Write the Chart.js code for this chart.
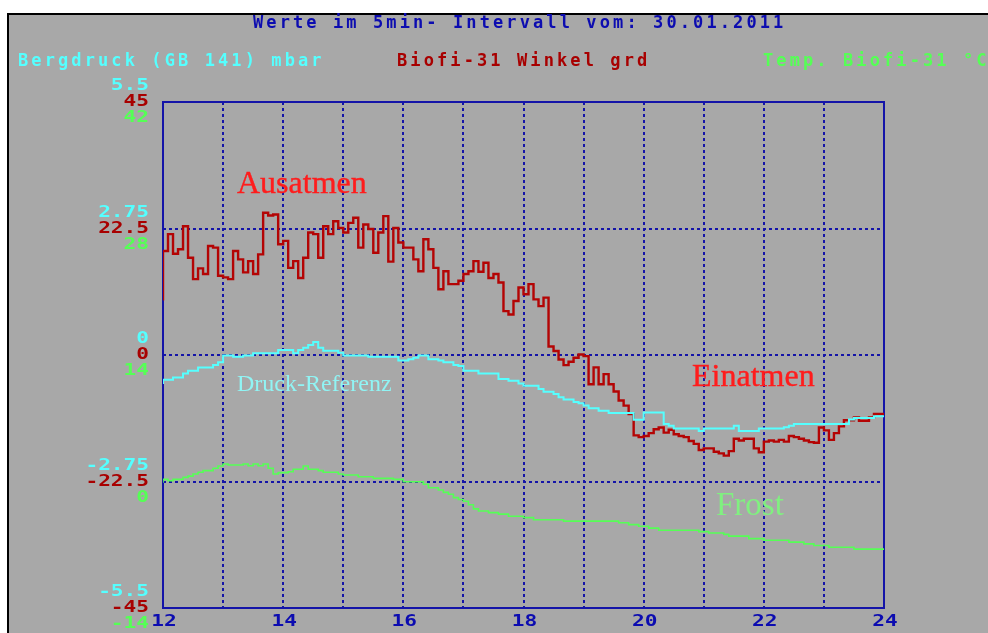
<!DOCTYPE html>
<html>
<head>
<meta charset="utf-8">
<script src="https://cdn.jsdelivr.net/npm/chart.js@4.4.1/dist/chart.umd.min.js"></script>
<style>
  html, body { margin: 0; padding: 0; background: #fff; }
  body { width: 988px; height: 633px; overflow: hidden; position: relative; }
  #panel { position: absolute; left: 7px; top: 13px; width: 990px; height: 630px;
           background: #a8a8a8; border-left: 2px solid #000; border-top: 2px solid #000; }
  canvas { position: absolute; left: 0; top: 0; }
  .dos { position: absolute; font: bold 17px "DejaVu Sans Mono", monospace; letter-spacing: 3.1px;
         white-space: pre; line-height: 20px; }
  .note { position: absolute; font-family: "Liberation Serif", serif; white-space: pre; line-height: 1; }
</style>
</head>
<body>
<div id="panel"></div>
<canvas id="chart" width="988" height="633"></canvas>
<div class="dos" style="left:253px; top:12px; color:#0c0cb0;">Werte im 5min- Intervall vom: 30.01.2011</div>
<div class="dos" style="left:18px; top:50px; color:#55ffff;">Bergdruck (GB 141) mbar</div>
<div class="dos" style="left:397px; top:50px; color:#a80000;">Biofi-31 Winkel grd</div>
<div class="dos" style="left:763px; top:50px; color:#55ff55;">Temp. Biofi-31 °C</div>
<div class="note" style="left:237px; top:166px; font-size:32px; color:#ff1c1c; -webkit-text-stroke:0.4px #ff1c1c;">Ausatmen</div>
<div class="note" style="left:237px; top:371px; font-size:24px; color:#90f4f4;">Druck-Referenz</div>
<div class="note" style="left:692px; top:359px; font-size:32px; color:#ff1c1c; -webkit-text-stroke:0.4px #ff1c1c;">Einatmen</div>
<div class="note" style="left:716px; top:488px; font-size:33px; color:#80f080;">Frost</div>
<script>
// 5-min values 12:00 .. 23:55
const angleValues = [
  9.7, 18.5, 21.5, 18.0, 18.8, 22.9, 17.3, 13.5, 15.4, 14.4, 19.4, 19.1,
  14.1, 13.8, 13.5, 18.5, 17.0, 14.7, 16.7, 14.4, 17.9, 25.3, 24.8, 25.0,
  19.7, 20.3, 15.5, 16.7, 13.7, 17.3, 21.8, 21.5, 17.3, 22.9, 21.5, 23.8,
  22.6, 21.8, 23.5, 24.4, 19.1, 23.2, 22.4, 18.2, 21.8, 24.7, 16.6, 22.6,
  20.0, 19.1, 19.1, 17.0, 14.9, 20.6, 18.8, 15.5, 11.7, 14.9, 12.6, 12.6,
  13.2, 14.4, 14.9, 16.7, 14.8, 16.4, 13.7, 14.4, 12.9, 7.8, 7.2, 9.6,
  12.0, 10.8, 12.6, 9.9, 8.7, 10.2, 1.5, 0.7, -0.8, -1.8, -1.2, -0.5,
  0.1, -0.2, -5.2, -2.2, -5.2, -3.4, -5.2, -6.5, -8.1, -9.0, -10.5, -14.3,
  -14.6, -14.4, -13.9, -13.2, -12.9, -13.8, -13.3, -14.1, -14.4, -14.6, -15.3, -15.8,
  -16.9, -16.6, -16.6, -17.2, -17.5, -17.9, -17.1, -14.9, -15.2, -14.9, -14.9, -16.6,
  -17.3, -15.4, -15.2, -15.4, -15.1, -15.4, -14.4, -14.6, -14.9, -15.2, -15.5, -15.6,
  -12.9, -13.4, -15.1, -13.9, -12.7, -11.6, -11.6, -11.1, -11.7, -11.7, -11.1, -10.5
];

// pressure and temperature only change now and then: step index (5 min) -> value
const pressureSteps = [0, 2, 4, 5, 7, 10, 11, 12, 14, 16, 18, 23, 26, 27, 28, 29, 30, 31, 32, 35, 36, 41,
  47, 49, 50, 51, 53, 55, 56, 58, 59, 60, 63, 67, 69, 71, 72, 75, 76, 78, 79, 80, 82, 83, 84, 85, 87, 89,
  94, 96, 100, 101, 102, 107, 108, 114, 115, 119, 124, 125, 126, 137, 138, 142, 143];
const pressureValues = [-0.63, -0.54, -0.49, -0.40, -0.34, -0.27, -0.22, -0.16, -0.01, -0.04, -0.01, 0.04,
  0.11, 0.04, 0.11, 0.16, 0.22, 0.28, 0.16, 0.09, 0.05, -0.01,
  -0.04, -0.12, -0.09, -0.06, -0.01, -0.09, -0.12, -0.16, -0.22, -0.24, -0.34, -0.40, -0.52, -0.56, -0.62,
  -0.67, -0.74, -0.80, -0.85, -0.92, -0.97, -1.02, -1.05, -1.10, -1.16, -1.21,
  -1.26, -1.41, -1.25, -1.50, -1.54, -1.60, -1.65, -1.60, -1.54, -1.65, -1.60, -1.57, -1.54, -1.50, -1.40,
  -1.37, -1.33];

const tempSteps = [0, 1, 2, 4, 5, 6, 7, 8, 10, 11, 12, 13, 16, 17, 18, 19, 20, 21, 22, 23, 25, 26, 28, 29,
  31, 32, 35, 36, 39, 42, 46, 48, 52, 53, 55, 56, 57, 58, 59, 60, 61, 62, 63, 65, 67, 69, 72, 74, 80,
  91, 93, 95, 97, 99, 107, 109, 112, 113, 117, 120, 125, 128, 130, 133, 138, 140];
const tempValues = [-0.13, 0.24, 0.09, 0.24, 0.46, 0.60, 0.83, 1.02, 1.20, 1.46, 1.71, 1.94, 1.83, 1.94,
  1.75, 1.94, 1.75, 1.94, 1.46, 0.83, 0.98, 1.08, 1.35, 1.71, 1.35, 1.20, 1.02, 0.83, 0.72, 0.53, 0.35,
  0.24, -0.02, -0.31, -0.69, -0.94, -1.20, -1.41, -1.79, -2.00, -2.18, -2.57, -3.03, -3.27, -3.45, -3.61,
  -3.84, -4.00, -4.23, -4.38, -4.57, -4.77, -4.96, -5.16, -5.39, -5.55, -5.70, -5.85, -6.04, -6.32,
  -6.51, -6.71, -6.90, -7.09, -7.28, -7.48];

const hourTicks = [12, 14, 16, 18, 20, 22, 24];
const pressureTicks = [5.5, 2.75, 0, -2.75, -5.5];
const angleTicks = [45, 22.5, 0, -22.5, -45];
const tempTicks = [42, 28, 14, 0, -14];

const BLUE = '#1414a8';
const CYAN = '#55ffff';
const DARKRED = '#a80000';
const GREEN = '#55ff55';

function stepPoints(steps, values) {
  const pts = steps.map((s, i) => ({ x: 12 + s / 12, y: values[i] }));
  pts.push({ x: 24, y: values[values.length - 1] });
  return pts;
}

const anglePoints = stepPoints(angleValues.map((v, i) => i), angleValues);
const pressurePoints = stepPoints(pressureSteps, pressureValues);
const tempPoints = stepPoints(tempSteps, tempValues);

// wide DOS-like digits: stretch the text sideways
function wideText(ctx, text, x, y, align) {
  ctx.save();
  ctx.translate(x, y);
  ctx.scale(1.32, 1);
  ctx.textAlign = align;
  ctx.fillText(text, 0, 0);
  ctx.restore();
}

// blue frame round the plot and the tick labels of all three scales
const frameAndLabels = {
  id: 'frameAndLabels',
  beforeDatasetsDraw(chart) {
    const { ctx, chartArea: a } = chart;
    ctx.save();
    ctx.strokeStyle = BLUE;
    ctx.lineWidth = 2;
    ctx.setLineDash([]);
    ctx.strokeRect(a.left, a.top, a.right - a.left, a.bottom - a.top);
    ctx.restore();
  },
  afterDatasetsDraw(chart) {
    const { ctx, chartArea: a } = chart;
    const { x, yP, yA, yT } = chart.scales;
    ctx.save();
    ctx.font = 'bold 16px "DejaVu Sans Mono"';
    ctx.textBaseline = 'middle';
    pressureTicks.forEach(v => {
      ctx.fillStyle = CYAN;
      wideText(ctx, String(v), 149, yP.getPixelForValue(v) - 16, 'right');
    });
    angleTicks.forEach(v => {
      ctx.fillStyle = DARKRED;
      wideText(ctx, String(v), 149, yA.getPixelForValue(v), 'right');
    });
    tempTicks.forEach(v => {
      ctx.fillStyle = GREEN;
      wideText(ctx, String(v), 149, yT.getPixelForValue(v) + 16, 'right');
    });

    ctx.fillStyle = '#0c0cb0';
    hourTicks.forEach(h => {
      wideText(ctx, String(h), x.getPixelForValue(h) + 1, a.bottom + 14, 'center');
    });
    ctx.restore();
  }
};

const gridOpts = { color: BLUE, lineWidth: 2, drawTicks: false };
const borderOpts = { display: false, dash: [3, 3] };

new Chart(document.getElementById('chart'), {
  type: 'line',
  data: {
    datasets: [
      { label: 'Bergdruck (GB 141) mbar', data: pressurePoints, yAxisID: 'yP',
        borderColor: CYAN, borderWidth: 2, stepped: 'after', pointRadius: 0 },
      { label: 'Temp. Biofi-31 °C', data: tempPoints, yAxisID: 'yT',
        borderColor: GREEN, borderWidth: 1.6, stepped: 'after', pointRadius: 0 },
      { label: 'Biofi-31 Winkel grd', data: anglePoints, yAxisID: 'yA',
        borderColor: '#b40404', borderWidth: 2.4, stepped: 'after', pointRadius: 0 }
    ]
  },
  options: {
    responsive: false,
    animation: false,
    events: [],
    layout: { padding: { left: 163, top: 102, right: 104, bottom: 25 } },
    plugins: { legend: { display: false }, tooltip: { enabled: false } },
    scales: {
      x: { type: 'linear', min: 12, max: 24,
           ticks: { display: false, stepSize: 1 }, grid: gridOpts, border: borderOpts },
      yA: { position: 'left', min: -45, max: 45,
            ticks: { display: false, stepSize: 22.5 }, grid: gridOpts, border: borderOpts },
      yP: { display: false, min: -5.5, max: 5.5 },
      yT: { display: false, min: -14, max: 42 }
    }
  },
  plugins: [frameAndLabels]
});
</script>
</body>
</html>
